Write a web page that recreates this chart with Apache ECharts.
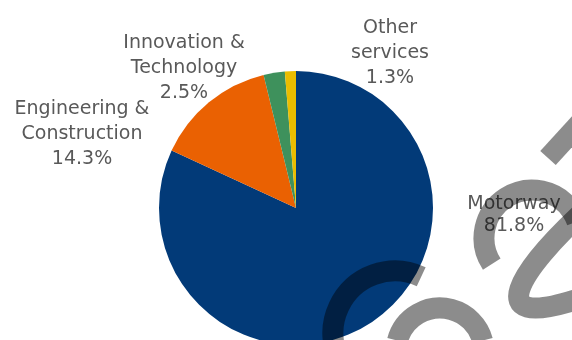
<!DOCTYPE html>
<html>
<head>
<meta charset="utf-8">
<script src="https://cdn.jsdelivr.net/npm/echarts@6/dist/echarts.min.js"></script>
<style>
html,body{margin:0;padding:0;background:#fff;}
#chart{width:572px;height:340px;}
</style>
</head>
<body>
<div id="chart"></div>
<script>
// Data
const categories = ['Motorway', 'Engineering &\nConstruction', 'Innovation &\nTechnology', 'Other\nservices'];
const shares = [81.8, 14.3, 2.5, 1.3];
const colors = ['#023a78', '#ea6102', '#3e915c', '#eabd00'];

// label block centres (layout only)
const labelPos = [[514, 215], [82, 134], [184, 68], [390, 53]];
const labelLH = [22, 25, 25, 25];

const chart = echarts.init(document.getElementById('chart'), null, {renderer: 'canvas'});
const d = Math.PI / 180;
const wm = {stroke: 'rgba(0,0,0,0.45)', lineWidth: 21, fill: null};

const option = {
  animation: false,
  backgroundColor: '#fff',
  series: [{
    type: 'pie',
    center: [296, 208],
    radius: 137,
    startAngle: 90,
    clockwise: true,
    avoidLabelOverlap: false,
    labelLine: {show: false},
    label: {
      show: true,
      position: 'outside',
      fontFamily: 'DejaVu Sans',
      fontSize: 19,
      color: '#595959',
      align: 'center',
      formatter: p => p.name + '\n' + p.value.toFixed(1) + '%'
    },
    labelLayout: function (params) {
      const i = params.dataIndex;
      return {x: labelPos[i][0], y: labelPos[i][1], align: 'center', verticalAlign: 'middle'};
    },
    itemStyle: {borderWidth: 0},
    data: categories.map((c, i) => ({
      name: c, value: shares[i],
      itemStyle: {color: colors[i]},
      label: {lineHeight: labelLH[i]}
    }))
  }],
  graphic: [
    {type: 'arc', z: 100, silent: true, shape: {cx: 395, cy: 333, r: 62, startAngle: -65 * d, endAngle: -200 * d, clockwise: false}, style: wm},
    {type: 'arc', z: 100, silent: true, shape: {cx: 532, cy: 238, r: 48, startAngle: 147 * d, endAngle: 340 * d, clockwise: true}, style: wm},
    {type: 'bezierCurve', z: 100, silent: true, shape: {x1: 585, y1: 210, cpx1: 520, cpy1: 270, cpx2: 480, cpy2: 330, x2: 575, y2: 300}, style: wm},
    {type: 'line', z: 100, silent: true, shape: {x1: 590, y1: 112, x2: 548, y2: 158}, style: wm},
    {type: 'arc', z: 100, silent: true, shape: {cx: 440, cy: 352, r: 44, startAngle: 195 * d, endAngle: 345 * d, clockwise: true}, style: wm}
  ]
};
chart.setOption(option);
</script>
</body>
</html>
